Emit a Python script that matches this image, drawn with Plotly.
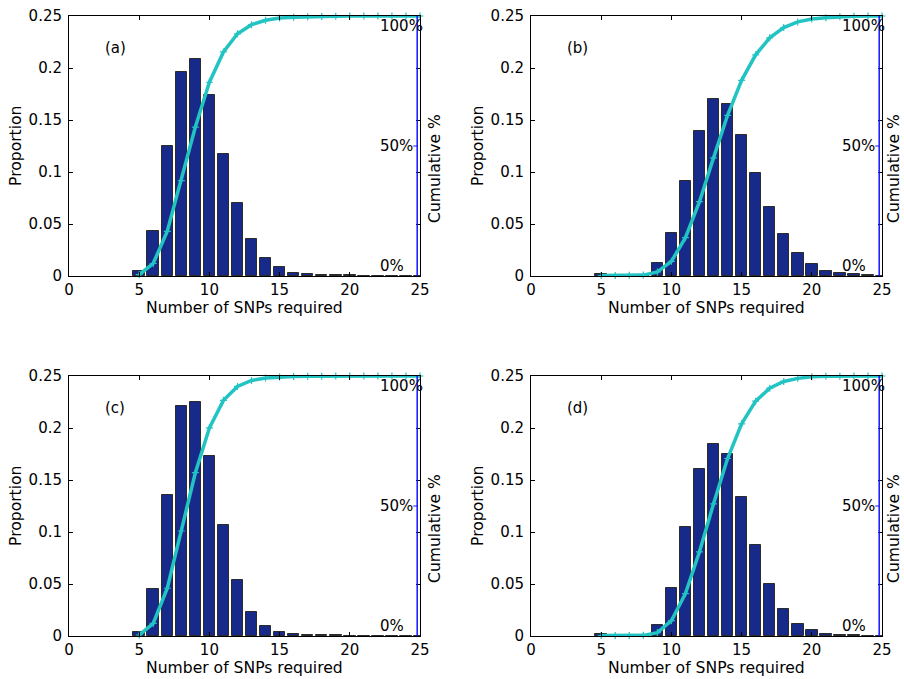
import numpy as np
import plotly.graph_objects as go

# Number of SNPs (bin centres) shared by all four panels
snps = list(range(5, 26))

# Proportion of samples requiring each number of SNPs
prop_a = [0.005, 0.0436, 0.125, 0.1965, 0.2083, 0.174, 0.1176, 0.0705, 0.0353, 0.0173,
          0.0083, 0.0032, 0.0022, 0.001, 0.001, 0.0008, 0, 0, 0, 0, 0]
prop_b = [0.002, 0, 0.0005, 0.001, 0.0122, 0.041, 0.0917, 0.1397, 0.1699, 0.165,
          0.1356, 0.0987, 0.066, 0.040, 0.0218, 0.0112, 0.0051, 0.0032, 0.0019, 0.001, 0.0004]
prop_c = [0.0038, 0.0449, 0.1356, 0.2212, 0.225, 0.1728, 0.1067, 0.0538, 0.0228, 0.0096,
          0.0035, 0.0019, 0.001, 0.0008, 0.0006, 0, 0, 0, 0, 0, 0]
prop_d = [0.002, 0, 0, 0.0005, 0.0106, 0.0458, 0.1045, 0.1609, 0.1849, 0.1747,
          0.1337, 0.0872, 0.05, 0.026, 0.0119, 0.0058, 0.0019, 0.0006, 0.0005, 0.0003, 0]

panel_tags = ["(a)", "(b)", "(c)", "(d)"]
x_ticks = [0, 5, 10, 15, 20, 25]
y_ticks = [0, 0.05, 0.1, 0.15, 0.2, 0.25]
pct_labels = ["0%", "50%", "100%"]
pct_pos = [0.04, 0.5, 0.96]

NAVY = "#172a8a"
CYAN = "#22c3c3"
FONT = dict(family="DejaVu Sans", size=15, color="black")
TITLE_FONT = dict(family="DejaVu Sans", size=15.6, color="black")

W, H = 904, 679
PW, PH = 351, 260
origins = [(69, 16), (531, 16), (69, 376), (531, 376)]
right_title_shift = [15, 12, 15, 12]

fig = go.Figure()
layout = {}
annotations = []
shapes = []

for i, (tag, prop) in enumerate(zip(panel_tags, [prop_a, prop_b, prop_c, prop_d])):
    n = i + 1
    sfx = "" if n == 1 else str(n)
    xa, ya, y2 = f"x{sfx}", f"y{sfx}", f"y{n + 4}"
    left, top = origins[i]

    fig.add_trace(go.Bar(
        x=snps, y=prop, xaxis=xa, yaxis=ya, width=0.82,
        marker=dict(color=NAVY, line=dict(color="#2b2b2b", width=1)),
        showlegend=False))

    cum = np.cumsum(prop) / np.sum(prop)
    fig.add_trace(go.Scatter(
        x=snps, y=cum, xaxis=xa, yaxis=y2, mode="lines+markers",
        line=dict(color=CYAN, width=3.5),
        marker=dict(symbol="cross-thin", size=5, color=CYAN,
                    line=dict(color=CYAN, width=1.2)),
        cliponaxis=False, showlegend=False))

    axis_common = dict(showline=True, linecolor="black", linewidth=1, mirror="ticks",
                       ticks="inside", ticklen=4, tickcolor="black", showgrid=False,
                       zeroline=False, tickfont=FONT, automargin=False)
    layout[f"xaxis{sfx}"] = dict(domain=[left / W, (left + PW) / W], anchor=ya,
                                 range=[0, 25], tickvals=x_ticks, **axis_common)
    layout[f"yaxis{sfx}"] = dict(domain=[1 - (top + PH) / H, 1 - top / H], anchor=xa,
                                 range=[0, 0.25], tickvals=y_ticks, ticklabelstandoff=3,
                                 **axis_common)
    layout[f"yaxis{n + 4}"] = dict(overlaying=ya, anchor=xa, side="right",
                                   range=[0, 1], visible=False, automargin=False)

    # panel tag
    annotations.append(dict(text=tag, x=2.4, y=0.219, xref=xa, yref=ya,
                            xanchor="left", yanchor="middle", showarrow=False, font=FONT))
    # cumulative percentage labels
    for lab, pos in zip(pct_labels, pct_pos):
        annotations.append(dict(text=lab, x=22, y=pos, xref=xa, yref=y2,
                                xanchor="left", yanchor="middle", showarrow=False, font=FONT))
    # axis titles
    annotations.append(dict(text="Number of SNPs required", x=0.5, y=0,
                            xref=f"{xa} domain", yref=f"{ya} domain", yshift=-32,
                            xanchor="center", yanchor="middle", showarrow=False,
                            font=TITLE_FONT))
    annotations.append(dict(text="Proportion", x=0, y=0.5, xshift=-53,
                            xref=f"{xa} domain", yref=f"{ya} domain", textangle=-90,
                            xanchor="center", yanchor="middle", showarrow=False,
                            font=TITLE_FONT))
    annotations.append(dict(text="Cumulative %", x=1, y=0.5, xshift=right_title_shift[i],
                            yshift=-23, xref=f"{xa} domain", yref=f"{ya} domain",
                            textangle=-90, xanchor="center", yanchor="middle",
                            showarrow=False, font=TITLE_FONT))

    # blue cumulative axis line and its mid tick
    shapes.append(dict(type="line", xref=xa, yref=f"{ya} domain", x0=24.8, x1=24.8,
                       y0=0, y1=1, line=dict(color="#1414ff", width=1.5)))
    shapes.append(dict(type="line", xref=xa, yref=y2, x0=24.52, x1=24.8,
                       y0=0.5, y1=0.5, line=dict(color="#1414ff", width=1)))

fig.update_layout(**layout)
fig.update_layout(
    width=W, height=H, margin=dict(l=0, r=0, t=0, b=0, pad=0, autoexpand=False),
    paper_bgcolor="white", plot_bgcolor="white",
    annotations=annotations, shapes=shapes, bargap=0,
    font=FONT, showlegend=False)

# keep the figure flush with the page corner
fig.write_html("out.html", config={"responsive": False},
               post_script="document.body.style.margin='0';")
